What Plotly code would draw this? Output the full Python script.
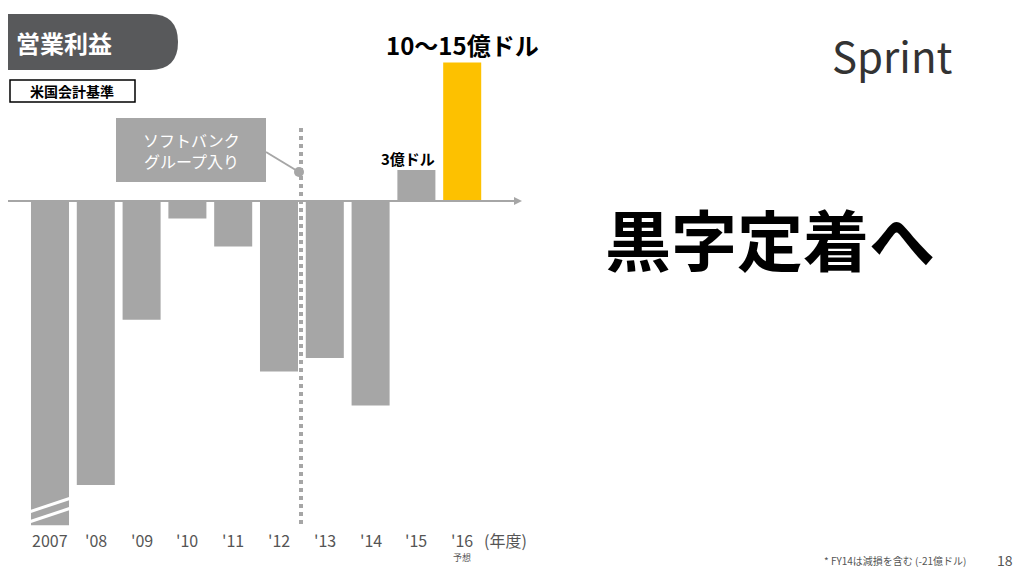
import plotly.graph_objects as go

years = ["2007", "'08", "'09", "'10", "'11", "'12", "'13", "'14", "'15", "'16"]
profit = [-31.4, -27.5, -11.5, -1.7, -4.4, -16.5, -15.2, -19.8, 3.0, 13.4]  # 億ドル (2007 truncated)
colors = ["#a6a6a6"] * 9 + ["#fdc100"]

# page has an 8px body margin, so the figure is offset by 8px
OFF = 8
W, H = 1024 - OFF, 576 - OFF
def px(x): return (x - OFF) / W
def py(y): return 1 - (y - OFF) / H

fig = go.Figure(go.Bar(x=list(range(len(years))), y=profit, marker_color=colors,
                       marker_line_width=0, width=0.83, hoverinfo="skip"))

FONT = "Noto Sans CJK JP"
shapes = []
ann = []
# baseline
shapes.append(dict(type="line", xref="paper", yref="paper", x0=px(0), x1=px(516), y0=py(201), y1=py(201),
                   line=dict(color="#a6a6a6", width=2)))
shapes.append(dict(type="path", xref="paper", yref="paper",
                   path=f"M {px(514)} {py(197)} L {px(522)} {py(201)} L {px(514)} {py(205)} Z",
                   fillcolor="#a6a6a6", line_width=0))
# dotted line
shapes.append(dict(type="line", xref="paper", yref="paper", x0=px(301), x1=px(301), y0=py(128), y1=py(525),
                   line=dict(color="#a6a6a6", width=4, dash="dot")))
# callout
shapes.append(dict(type="rect", xref="paper", yref="paper", x0=px(116), x1=px(266), y0=py(118), y1=py(182),
                   fillcolor="#a6a6a6", line_width=0))
shapes.append(dict(type="line", xref="paper", yref="paper", x0=px(266), x1=px(299), y0=py(152), y1=py(172),
                   line=dict(color="#a6a6a6", width=2)))
shapes.append(dict(type="circle", xref="paper", yref="paper", x0=px(294), x1=px(304), y0=py(167), y1=py(177),
                   fillcolor="#a6a6a6", line_width=0))
# break marks on 2007 bar
for y in (498, 508):
    shapes.append(dict(type="line", xref="paper", yref="paper", x0=px(29), x1=px(71), y0=py(y + 14), y1=py(y),
                       line=dict(color="white", width=3)))
# title pill
shapes.append(dict(type="path", xref="paper", yref="paper",
                   path=f"M {px(0)} {py(14)} L {px(150)} {py(14)} Q {px(178)} {py(14)} {px(178)} {py(42)} "
                        f"Q {px(178)} {py(70)} {px(150)} {py(70)} L {px(0)} {py(70)} Z",
                   fillcolor="#58595b", line_width=0))
shapes.append(dict(type="rect", xref="paper", yref="paper", x0=px(10), x1=px(135), y0=py(80), y1=py(102),
                   line=dict(color="black", width=1.5), fillcolor="white"))

def t(x, y, s, size, color="black", bold=False, xanchor="center"):
    ann.append(dict(xref="paper", yref="paper", x=px(x), y=py(y), text=f"<b>{s}</b>" if bold else s,
                    showarrow=False, xanchor=xanchor, yanchor="middle",
                    font=dict(family=FONT, size=size, color=color)))

t(14, 42, "営業利益", 24, "white", True, "left")
t(72, 91, "米国会計基準", 14, bold=True)
t(191, 150, "ソフトバンク<br>グループ入り", 16, "white")
t(462, 44, "10〜15億ドル", 24, bold=True)
t(408, 158, "3億ドル", 15, bold=True)
t(770, 237, "黒字定着へ", 66, bold=True)
for i, yl in enumerate(years):
    t(50 + 45.8 * i, 540, yl, 16, "#555555")
t(505, 540, "(年度)", 16, "#555555")
t(462, 557, "予想", 9, "#555555")
t(895, 560, "* FY14は減損を含む (-21億ドル)", 10, "#555555")
t(1005, 560, "18", 14, "#555555")
t(892, 54, "Sprint", 42, "#333333")

fig.update_layout(
    width=W, height=H, margin=dict(l=0, r=0, t=0, b=0),
    plot_bgcolor="white", paper_bgcolor="white", showlegend=False,
    xaxis=dict(range=[(OFF - 50) / 45.8, (1024 - 50) / 45.8], visible=False, fixedrange=True),
    yaxis=dict(range=[-(576 - 201) / 10.33, (201 - OFF) / 10.33], visible=False, fixedrange=True),
    shapes=shapes, annotations=ann,
)
fig.write_html("out.html")
